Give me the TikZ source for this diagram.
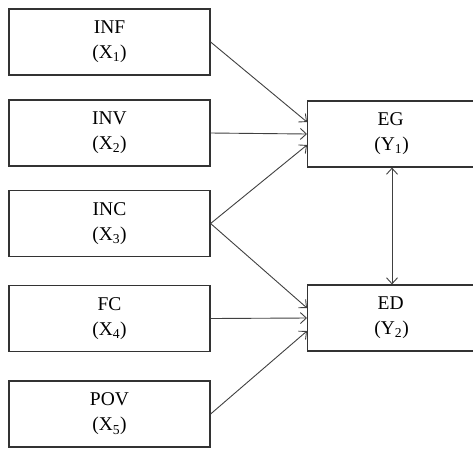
\documentclass[tikz,border=0pt]{standalone}
\usepackage{fontspec}
\setmainfont{Liberation Serif}
\usetikzlibrary{arrows.meta}
\begin{document}
\begin{tikzpicture}[x=1pt,y=-1pt,
  box/.style={draw=black!80, line width=1.2pt, minimum width=201pt, minimum height=66pt, inner sep=0pt,
    align=center, font=\fontsize{19.5}{25}\selectfont},
  rbox/.style={box, minimum width=168pt},
  conn/.style={draw=black!75, line width=0.9pt, -{Straight Barb[length=6pt,width=11pt]}}]
\useasboundingbox (0,0) rectangle (473,448);
\node[box] (x1) at (109.5,42) {INF\\(X\textsubscript{1})};
\node[box] (x2) at (109.5,133) {INV\\(X\textsubscript{2})};
\node[box] (x3) at (109.5,223.5) {INC\\(X\textsubscript{3})};
\node[box] (x4) at (109.5,318.5) {FC\\(X\textsubscript{4})};
\node[box] (x5) at (109.5,414) {POV\\(X\textsubscript{5})};
\node[rbox, anchor=west] (y1) at (307,134) {\hspace*{-2pt}EG\\(Y\textsubscript{1})};
\node[rbox, anchor=west] (y2) at (307,318) {\hspace*{-2pt}ED\\(Y\textsubscript{2})};
\draw[conn] (x1.east) -- ([yshift=12pt]y1.west);
\draw[conn] (x2.east) -- (y1.west);
\draw[conn] (x3.east) -- ([yshift=-11pt]y1.west);
\draw[conn] (x3.east) -- ([yshift=10pt]y2.west);
\draw[conn] (x4.east) -- (y2.west);
\draw[conn] (x5.east) -- ([yshift=-13pt]y2.west);
\draw[conn, {Straight Barb[length=6pt,width=11pt]}-{Straight Barb[length=6pt,width=11pt]}] ([xshift=85pt]y1.south west) -- ([xshift=85pt]y2.north west);
\end{tikzpicture}
\end{document}
